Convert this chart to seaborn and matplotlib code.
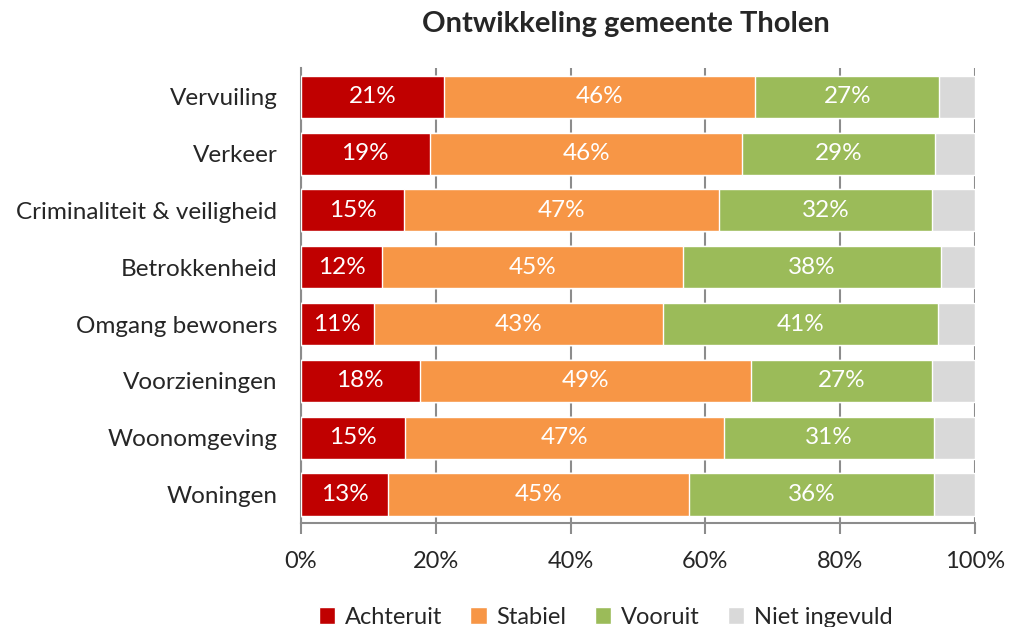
import seaborn as sns
import matplotlib.pyplot as plt
import numpy as np
import pandas as pd
from matplotlib.patches import Patch

# Categories (top to bottom) and shares per answer (%)
categories = ["Vervuiling", "Verkeer", "Criminaliteit & veiligheid", "Betrokkenheid",
              "Omgang bewoners", "Voorzieningen", "Woonomgeving", "Woningen"]
achteruit = [21.2, 19.1, 15.3, 12.0, 10.8, 17.6, 15.4, 12.9]
stabiel = [46.2, 46.4, 46.7, 44.7, 42.9, 49.2, 47.4, 44.7]
vooruit = [27.3, 28.6, 31.6, 38.3, 40.8, 26.8, 31.1, 36.3]
niet_ingevuld = [5.3, 5.9, 6.4, 5.0, 5.5, 6.4, 6.1, 6.1]

series = ["Achteruit", "Stabiel", "Vooruit", "Niet ingevuld"]
colors = ["#C00000", "#F79646", "#9BBB59", "#D9D9D9"]

df = pd.DataFrame({"Categorie": categories, "Achteruit": achteruit, "Stabiel": stabiel,
                   "Vooruit": vooruit, "Niet ingevuld": niet_ingevuld})
cum = df[series].cumsum(axis=1)

sns.set_style("white")
plt.rcParams['font.family'] = ['Lato', 'DejaVu Sans']

fig = plt.figure(figsize=(10.09, 6.27), dpi=100)
ax = fig.add_axes([0.2983, 0.166, 0.668, 0.725])

# stacked bars: draw cumulative totals from the last series to the first
for name, col in reversed(list(zip(series, colors))):
    sns.barplot(x=cum[name], y=df["Categorie"], color=col, orient="h", width=0.74,
                saturation=1, edgecolor="white", linewidth=1, ax=ax, zorder=3)

# percentage labels
for name in series[:3]:
    for i, (c, v) in enumerate(zip(cum[name], df[name])):
        ax.text(c - v / 2, i, f"{round(v):d}%", ha="center", va="center",
                color="white", fontsize=17.5, zorder=4)

ax.set_xlim(0, 100)
ax.set_ylim(7.5, -0.5)
ax.set_xticks(np.arange(0, 101, 20))
ax.set_xticklabels([f"{t}%" for t in range(0, 101, 20)], fontsize=17)
ax.tick_params(axis="y", labelsize=17.5, length=0, pad=17)
ax.tick_params(axis="x", direction="out", length=8, width=1.5, color="#8C8C8C",
               bottom=True, pad=12)
ax.set_xlabel("")
ax.set_ylabel("")
ax.grid(axis="x", color="#8C8C8C", linewidth=1.5, zorder=0)
ax.set_axisbelow(True)
for s in ["top", "right"]:
    ax.spines[s].set_visible(False)
for s in ["left", "bottom"]:
    ax.spines[s].set_color("#8C8C8C")
    ax.spines[s].set_linewidth(1.5)

fig.text(0.62, 0.962, "Ontwikkeling gemeente Tholen", ha="center", va="center",
         fontsize=21, fontweight="bold")

handles = [Patch(facecolor=c, label=s) for s, c in zip(series, colors)]
fig.legend(handles=handles, loc="lower center", bbox_to_anchor=(0.6, -0.035), ncol=4,
           frameon=False, fontsize=17, handlelength=0.7, handleheight=0.7,
           handletextpad=0.4, columnspacing=1.2)

fig.savefig("out.png", dpi=100)
